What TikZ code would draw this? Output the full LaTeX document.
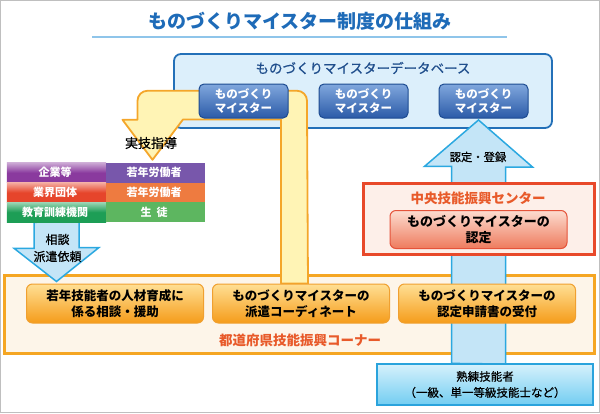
\documentclass[tikz,border=0pt]{standalone}
\usepackage{fontspec}
\setmainfont{Noto Sans CJK JP}
\newfontfamily\medium{Noto Sans CJK JP}[FakeBold=0.7]
\usetikzlibrary{positioning, matrix, calc}
\pgfdeclarelayer{back}
\pgfdeclarelayer{mid}
\pgfsetlayers{back,mid,main}
\definecolor{titleblue}{HTML}{1E6BB8}
\definecolor{titleline}{HTML}{8FC5EA}
\definecolor{dbblue}{HTML}{2370B8}
\definecolor{dbfill}{HTML}{DCEFFB}
\definecolor{dbtext}{HTML}{1F4E8C}
\definecolor{mtop}{HTML}{80A7DD}
\definecolor{mbot}{HTML}{2B5BA8}
\definecolor{mnavy}{HTML}{1D4B91}
\definecolor{yfill}{HTML}{FFF4B5}
\definecolor{yline}{HTML}{F4A62A}
\definecolor{bfill}{HTML}{C4E5F7}
\definecolor{bline}{HTML}{2BA8E0}
\definecolor{ofill}{HTML}{FDF5E9}
\definecolor{oline}{HTML}{F5A623}
\definecolor{otop}{HTML}{FFDF94}
\definecolor{obot}{HTML}{F59C1A}
\definecolor{oborder}{HTML}{F0A030}
\definecolor{cfill}{HTML}{FDEFE9}
\definecolor{cline}{HTML}{E8492A}
\definecolor{ctop}{HTML}{FCDCCF}
\definecolor{cbot}{HTML}{EE7B5E}
\definecolor{cborder}{HTML}{E5533A}
\definecolor{redtext}{HTML}{E85A2A}
\definecolor{stop}{HTML}{D6F1FC}
\definecolor{sbot}{HTML}{72CDF1}
\definecolor{sline}{HTML}{2AA3DC}
\definecolor{purpleA}{HTML}{8A3A9E}
\definecolor{purpleB}{HTML}{7857AB}
\definecolor{redA}{HTML}{E6452B}
\definecolor{orangeB}{HTML}{EE7B40}
\definecolor{greenA}{HTML}{1D9E56}
\definecolor{greenB}{HTML}{5DB660}
\begin{document}
\begin{tikzpicture}[x=1pt, y=-1pt,
  every node/.style={inner sep=0pt, align=center},
  heading/.style={text=titleblue, font=\fontsize{19}{19}\selectfont\bfseries},
  dbbox/.style={draw=dbblue, line width=1.8pt, fill=dbfill, rounded corners=7pt, minimum width=378pt, minimum height=74pt},
  maestro/.style={draw=mnavy, line width=1pt, top color=mtop, bottom color=mbot, rounded corners=5pt, minimum width=89pt, minimum height=34pt, text=white, font=\fontsize{11.5}{14}\selectfont\bfseries},
  cell/.style={minimum width=99pt, minimum height=19.7pt, text=white, font=\fontsize{11}{11}\selectfont\bfseries},
  org/.style={top color=#1!45!white, bottom color=#1, middle color=#1},
  corner/.style={draw=oline, line width=3pt, fill=ofill, minimum width=590pt, minimum height=78pt},
  service/.style={draw=oborder, line width=1pt, top color=otop, bottom color=obot, rounded corners=6pt, minimum width=177pt, minimum height=39pt, font=\fontsize{12.5}{16}\selectfont\bfseries},
  hq/.style={draw=cline, line width=3pt, fill=cfill, minimum width=231pt, minimum height=71pt},
  certbox/.style={draw=cborder, line width=1pt, top color=ctop, bottom color=cbot, rounded corners=6pt, minimum width=177pt, minimum height=38pt, font=\fontsize{13}{16}\selectfont\bfseries},
  skillbox/.style={draw=sline, line width=1.2pt, top color=stop, bottom color=sbot, minimum width=216pt, minimum height=41pt, font=\fontsize{11.5}{16}\selectfont\medium},
  yarrow/.style={draw=yline, line width=1.8pt, fill=yfill, line join=round},
  barrow/.style={draw=bline, line width=1.5pt, fill=bfill},
  note/.style={font=\fontsize{12}{17}\selectfont\medium}
]
\useasboundingbox (0,0) rectangle (600,413);
\draw[black!25, line width=1pt] (0.5,0.5) rectangle (599.5,412.5);
\node[heading] (title) at (300,21) {ものづくりマイスター制度の仕組み};
\draw[titleline, line width=2pt] (92,37) -- (507,37);

\node[text=dbtext, font=\fontsize{13.5}{14}\selectfont\medium] (dbtitle) at (363,68) {ものづくりマイスターデータベース};
\node[maestro] (m1) at (243.5,101) {ものづくり\\マイスター};
\node[maestro, right=30pt of m1] (m2) {ものづくり\\マイスター};
\node[maestro, right=30pt of m2] (m3) {ものづくり\\マイスター};

\matrix (tbl) [matrix of nodes, nodes={cell}, column sep=0pt, row sep=0pt] at (106,192.5) {
|[org=purpleA]| 企業等 & |[fill=purpleB]| 若年労働者 \\
|[org=redA]| 業界団体 & |[fill=orangeB]| 若年労働者 \\
|[org=greenA]| 教育訓練機関 & |[fill=greenB]| 生\hspace{5pt}徒 \\
};

\node[service] (youth) at (115,303.5) {若年技能者の人材育成に\\係る相談・援助};
\node[service, right=8pt of youth] (dispatch) {ものづくりマイスターの\\派遣コーディネート};
\node[service, right=8pt of dispatch] (accept) {ものづくりマイスターの\\認定申請書の受付};
\node[text=redtext, font=\fontsize{13.5}{14}\selectfont\bfseries] (cornertitle) at (300,340) {都道府県技能振興コーナー};

\node[hq] (hq) at (478.5,218.5) {};
\node[text=redtext, font=\fontsize{13.5}{14}\selectfont\bfseries] (hqtitle) at (478,198) {中央技能振興センター};
\node[certbox] (cert) at (478.5,229.5) {ものづくりマイスターの\\認定};

\node[skillbox] (skilled) at (485,384.5) {熟練技能者\\（一級、単一等級技能士など）};

\node[font=\fontsize{13}{14}\selectfont\medium] (guide) at (151,143) {実技指導};
\node[font=\fontsize{11.3}{12}\selectfont\medium] (reg) at (478,157) {認定・登録};
\node[note] (consult) at (57.5,248) {相談\\派遣依頼};

\begin{pgfonlayer}{back}
\node[dbbox] (db) at (363,91) {};
\node[corner] (corner) at (299,314) {};
\end{pgfonlayer}

\begin{pgfonlayer}{mid}
\coordinate (upTip) at (478.5,120);
\filldraw[barrow] (upTip |- skilled.north) ++(-27,0) -- ++(0,-197) -- ++(-27,0) -- (upTip) -- ++(54,47) -- ++(-27,0) -- ++(0,197) -- cycle;
\coordinate (dnTip) at ($(tbl-3-1.south |- youth.north)+(0,-2)$);
\filldraw[barrow] (tbl-3-1.south) ++(-22.5,0) -- ++(0,26) -- ++(-20,0) -- (dnTip) -- ++(42.5,-34) -- ++(-20,0) -- ++(0,-26) -- cycle;
\coordinate (yTip) at ($(tbl-1-2.north)+(-3,-3)$);
\coordinate (yLeft) at ($(yTip)+(-15,-50)$);
\filldraw[yarrow] (yLeft) [rounded corners=10pt] -- ++(0,-19) -- ++(169.5,0) -- ++(0,20) [sharp corners] -- ($(dispatch.north)+(7,0)$) -- ++(-27,0) -- ++(0,-164) -- ++(-98,0) -- (yTip) -- ++(-30,-40) -- ++(15,0) -- cycle;
\end{pgfonlayer}
\end{tikzpicture}
\end{document}
